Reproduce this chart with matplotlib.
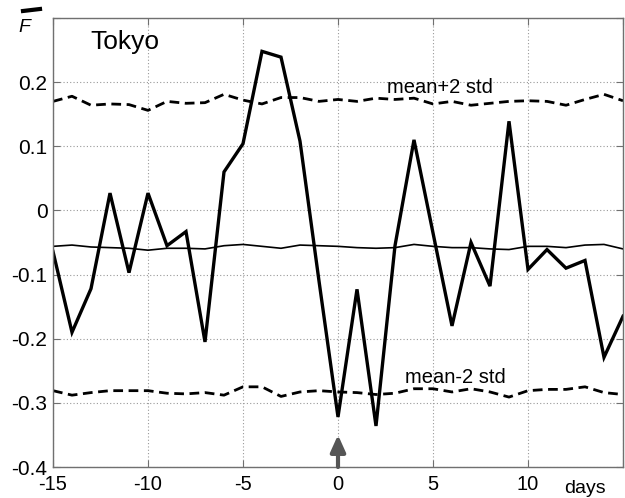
import matplotlib
matplotlib.use("Agg")
import matplotlib.pyplot as plt
from matplotlib.lines import Line2D

plt.rcParams['font.family'] = ['Liberation Sans', 'DejaVu Sans']
plt.rcParams['axes.unicode_minus'] = False

days = list(range(-15, 16))
anomaly = [-0.064, -0.19, -0.122, 0.027, -0.097, 0.027, -0.055, -0.033, -0.205, 0.06,
           0.104, 0.248, 0.239, 0.108, -0.11, -0.322, -0.123, -0.336, -0.055, 0.11,
           -0.035, -0.18, -0.05, -0.118, 0.139, -0.092, -0.061, -0.09, -0.078, -0.229, -0.165]
mean_line = [-0.056, -0.054, -0.057, -0.058, -0.059, -0.062, -0.059, -0.059, -0.060, -0.055,
             -0.053, -0.056, -0.059, -0.054, -0.055, -0.056, -0.058, -0.059, -0.058, -0.053,
             -0.056, -0.058, -0.058, -0.060, -0.061, -0.056, -0.056, -0.058, -0.054, -0.053, -0.060]
upper = [0.170, 0.178, 0.164, 0.166, 0.165, 0.156, 0.170, 0.167, 0.168, 0.181,
         0.172, 0.166, 0.176, 0.176, 0.170, 0.173, 0.170, 0.175, 0.173, 0.175,
         0.166, 0.170, 0.164, 0.167, 0.170, 0.171, 0.170, 0.164, 0.173, 0.181, 0.171]
lower = [-0.281, -0.288, -0.284, -0.281, -0.281, -0.281, -0.285, -0.286, -0.284, -0.288,
         -0.275, -0.275, -0.290, -0.283, -0.281, -0.283, -0.284, -0.287, -0.285, -0.278,
         -0.278, -0.283, -0.278, -0.283, -0.291, -0.281, -0.279, -0.279, -0.275, -0.284, -0.287]
xticks = [-15, -10, -5, 0, 5, 10]
yticks = [-0.4, -0.3, -0.2, -0.1, 0, 0.1, 0.2]
ytick_labels = ['-0.4', '-0.3', '-0.2', '-0.1', '0', '0.1', '0.2']

fig = plt.figure(figsize=(6.25, 4.98), dpi=100)
ax = fig.add_axes([53/625, 31/498, 570/625, 449/498])

ax.plot(days, mean_line, color='black', lw=1.2)
ax.plot(days, upper, color='black', lw=2.0, ls=(0, (3.5, 2)))
ax.plot(days, lower, color='black', lw=2.0, ls=(0, (3.5, 2)))
ax.plot(days, anomaly, color='black', lw=2.4, solid_joinstyle='miter')

ax.set_xlim(-15, 15)
ax.set_ylim(-0.4, 0.3)
ax.set_yticks(yticks + [0.3])
ax.set_yticklabels(ytick_labels + [''])
ax.set_xticks(xticks + [15])
ax.set_xticklabels([str(t) for t in xticks] + [''])

ax.grid(True, color='#999999', ls=(0, (1, 2)), lw=0.8)
for s in ax.spines.values():
    s.set_color('#707070')
    s.set_linewidth(1.0)
ax.tick_params(direction='in', length=5, width=0.8, color='#707070',
               top=True, right=True)
ax.tick_params(axis='y', labelsize=15, pad=4)
ax.tick_params(axis='x', labelsize=14.5, pad=6)

fig.text(90/625, 1 - 42/498, 'Tokyo', fontsize=19, ha='left', va='center')
ax.text(2.6, 0.192, 'mean+2 std', fontsize=14.5, ha='left', va='center')
ax.text(3.55, -0.260, 'mean-2 std', fontsize=14.5, ha='left', va='center')
fig.text(585/625, 1 - 488/498, 'days', fontsize=14, ha='center', va='center')

fig.text(24/625, 1 - 28/498, 'F', fontsize=14, style='italic', ha='center', va='center')
fig.add_artist(Line2D([23/625, 40/625], [1 - 11/498, 1 - 9/498], transform=fig.transFigure,
                      color='black', lw=3))

ax.annotate('', xy=(0, -0.35), xytext=(0, -0.4),
            arrowprops=dict(arrowstyle='-|>,head_length=1.0,head_width=0.45',
                            color='#555555', lw=3.0, shrinkA=0, shrinkB=0))

fig.savefig('out.png', dpi=100)
